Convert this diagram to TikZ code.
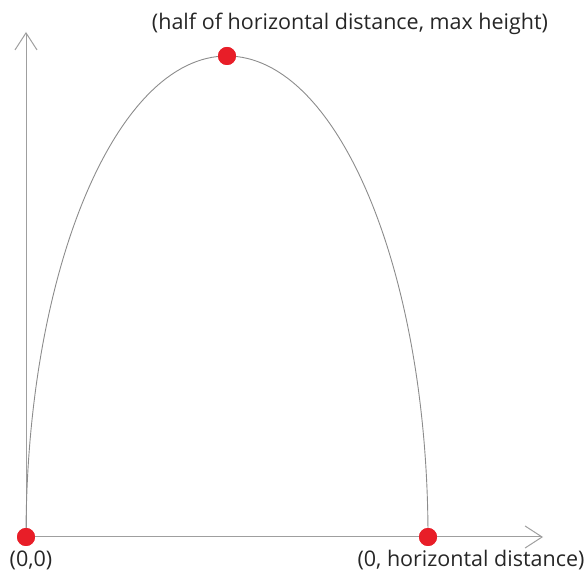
\documentclass[tikz,border=0pt]{standalone}
\usepackage{fontspec}
\setmainfont{Open Sans}
\usepackage{tikz}
\usetikzlibrary{arrows.meta,
                positioning}
\definecolor{dotred}{RGB}{232,30,40}

\begin{document}
\begin{tikzpicture}[
x=1pt, y=1pt,
axis/.style = {draw=gray!75, line width=1pt, -{Straight Barb[length=17pt, width=22pt]}},
dot/.style  = {circle, fill=dotred, minimum size=18pt, inner sep=0pt},
lbl/.style  = {font=\fontsize{21.5}{25}\selectfont, text=black!85, inner sep=0pt}
                        ]
            \useasboundingbox (0,0) rectangle (587,573);
		    \coordinate (ytip) at (26,541);
		    \coordinate (xtip) at (543,36);
		    \node[dot] (o) at (26,36) {};
		    \node[dot] (r) at (428,36) {};
		    \node[dot] (top) at (227,517) {};

		    \draw[axis] (o.center) -- (ytip);
		    \draw[axis] (o.center) -- (xtip);
		    \draw[gray!90, line width=0.9pt] (r.center) arc[start angle=0, end angle=180,
		                x radius=201, y radius=481];
		    % dots again over the lines
		    \node[dot] at (o) {};
		    \node[dot] at (r) {};
		    \node[dot] at (top) {};

		    \node[lbl, anchor=base] (olbl) at (31,6) {(0,0)};
		    \node[lbl, anchor=base] (rlbl) at (471,6) {(0, horizontal distance)};
		    \node[lbl, anchor=base] (toplbl) at (350,543) {(half of horizontal distance, max height)};
	    \end{tikzpicture}
\end{document}
